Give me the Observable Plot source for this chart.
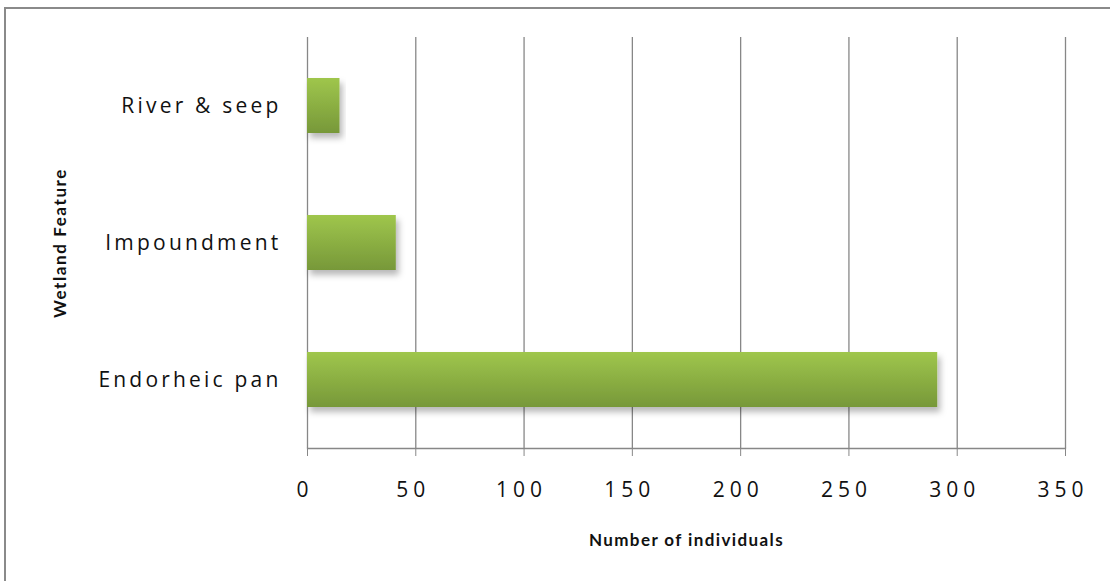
<!DOCTYPE html>
<html>
<head>
<meta charset="utf-8">
<script src="https://cdn.jsdelivr.net/npm/d3@7"></script>
<script src="https://cdn.jsdelivr.net/npm/@observablehq/plot@0.6"></script>
<style>
  html, body { margin: 0; padding: 0; background: #fff; }
  #wrap { position: relative; width: 1110px; height: 581px; overflow: hidden; }
  #frame { position: absolute; left: 4px; top: 7px; width: 1200px; height: 700px; border-left: 2px solid #8a8a8a; border-top: 2px solid #8a8a8a; box-sizing: border-box; pointer-events: none; }
  #chart { position: absolute; left: 0; top: 0; }
</style>
</head>
<body>
<div id="wrap"><div id="chart"></div><div id="frame"></div></div>
<script>
const categories = ["River & seep", "Impoundment", "Endorheic pan"];
const values = [15, 41, 291];
const xTicks = [0, 50, 100, 150, 200, 250, 300, 350];
const xTitle = "Number of individuals";
const yTitle = "Wetland Feature";

const data = categories.map((c, i) => ({category: c, value: values[i]}));

const chart = Plot.plot({
  width: 1110,
  height: 581,
  marginLeft: 307,
  marginRight: 45,
  marginTop: 37,
  marginBottom: 133,
  style: {fontFamily: "'Open Sans', Lato, sans-serif", background: "transparent"},
  x: {domain: [0, 350], ticks: xTicks},
  y: {domain: categories, paddingInner: 0.6, paddingOuter: 0.3},
  marks: [
    Plot.gridX(xTicks, {stroke: "#878787", strokeOpacity: 1, strokeWidth: 1.3}),
    Plot.barX(data, {x: "value", y: "category", fill: "url(#barGrad)"}),
    Plot.frame({anchor: "bottom", stroke: "#878787", strokeWidth: 1.3}),
    Plot.axisX({ticks: xTicks, tickSize: 8, tickPadding: 26, stroke: "#878787",
      fontSize: 21, fill: "#111", label: xTitle, labelAnchor: "center", labelOffset: 97}),
    Plot.axisY({tickSize: 0, tickPadding: 26, fontSize: 21, fill: "#111",
      label: yTitle, labelAnchor: "center", labelOffset: 254})
  ]
});

// gradient + shadow defs
const svg = d3.select(chart);
const defs = svg.insert("defs", ":first-child");
const g = defs.append("linearGradient").attr("id", "barGrad").attr("x1", 0).attr("y1", 0).attr("x2", 0).attr("y2", 1);
g.append("stop").attr("offset", "0%").attr("stop-color", "#9fc64c");
g.append("stop").attr("offset", "100%").attr("stop-color", "#779839");
const f = defs.append("filter").attr("id", "shadow").attr("x", "-10%").attr("y", "-20%").attr("width", "130%").attr("height", "160%");
f.append("feDropShadow").attr("dx", 3).attr("dy", 5).attr("stdDeviation", 3).attr("flood-color", "#000").attr("flood-opacity", 0.28);
svg.selectAll("g[aria-label='bar'] rect").attr("filter", "url(#shadow)");

// style axis labels
svg.selectAll("g[aria-label='x-axis label'] text").text(xTitle)
  .attr("font-family", "Lato, sans-serif")
  .attr("font-weight", "bold").attr("font-size", 17).attr("fill", "#111").attr("letter-spacing", "1.4px");
svg.selectAll("g[aria-label='y-axis label'] text").text(yTitle)
  .attr("font-family", "Lato, sans-serif")
  .attr("font-weight", "bold").attr("font-size", 17).attr("fill", "#111").attr("letter-spacing", "1.6px");
svg.selectAll("g[aria-label='x-axis tick label'] text")
  .attr("letter-spacing", "5px").attr("dx", -2.5);
svg.selectAll("g[aria-label='y-axis tick label'] text")
  .attr("letter-spacing", "3.2px");

document.getElementById("chart").appendChild(chart);
</script>
</body>
</html>
